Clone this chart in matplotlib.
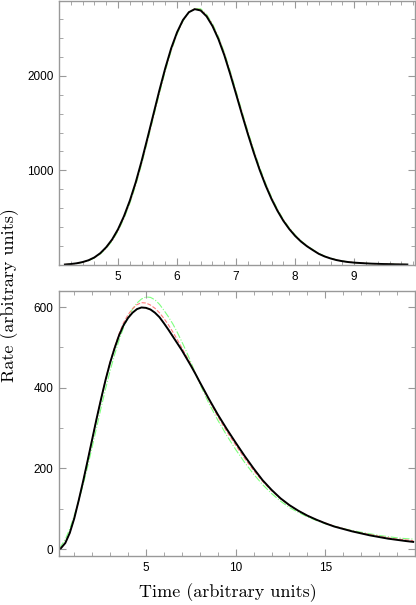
import matplotlib
matplotlib.use("Agg")
import matplotlib.pyplot as plt
from matplotlib.ticker import MultipleLocator, FixedLocator

# top panel: narrow peak
t_top = [4.1, 4.2, 4.3, 4.4, 4.5, 4.6, 4.7, 4.8, 4.9, 5.0,
         5.1, 5.2, 5.3, 5.4, 5.5, 5.6, 5.7, 5.8, 5.9, 6.0,
         6.1, 6.2, 6.3, 6.4, 6.5, 6.6, 6.7, 6.8, 6.9, 7.0,
         7.1, 7.2, 7.3, 7.4, 7.5, 7.6, 7.7, 7.8, 7.9, 8.0,
         8.1, 8.2, 8.3, 8.4, 8.5, 8.6, 8.7, 8.8, 8.9, 9.0,
         9.1, 9.2, 9.3, 9.4, 9.5, 9.6, 9.7, 9.8, 9.9]
black_top = [5, 10, 18, 31, 50, 80, 125, 188, 270, 378,
             515, 680, 875, 1100, 1345, 1595, 1845, 2080, 2290, 2460,
             2590, 2672, 2704, 2690, 2628, 2525, 2388, 2218, 2018, 1805,
             1590, 1382, 1185, 1003, 840, 697, 573, 467, 380, 307,
             247, 198, 157, 118, 90, 69, 52, 40, 31, 25,
             21, 17, 14, 12, 10, 9, 7, 6, 5]
red_top = [5, 10, 17, 30, 48, 78, 121, 183, 263, 369,
           504, 667, 860, 1084, 1328, 1578, 1828, 2065, 2277, 2451,
           2585, 2671, 2708, 2698, 2638, 2537, 2400, 2232, 2033, 1820,
           1605, 1396, 1198, 1015, 851, 707, 581, 474, 386, 312,
           251, 201, 160, 120, 92, 70, 53, 41, 32, 25,
           21, 17, 14, 12, 10, 9, 7, 6, 5]
green_top = [4, 9, 16, 28, 46, 74, 116, 176, 254, 358,
             490, 651, 842, 1066, 1310, 1560, 1810, 2048, 2262, 2440,
             2578, 2670, 2712, 2708, 2650, 2550, 2415, 2248, 2050, 1838,
             1622, 1413, 1214, 1030, 865, 718, 591, 482, 393, 318,
             256, 205, 163, 123, 94, 72, 54, 42, 32, 26,
             21, 17, 14, 12, 10, 9, 7, 6, 5]

# bottom panel: skewed peak
t_bot = [0.15, 0.25, 0.5, 0.75, 1.0, 1.25, 1.5, 1.75, 2.0, 2.25,
         2.5, 2.75, 3.0, 3.25, 3.5, 3.75, 4.0, 4.25, 4.5, 4.75,
         5.0, 5.25, 5.5, 5.75, 6.0, 6.25, 6.5, 6.75, 7.0, 7.25,
         7.5, 7.75, 8.0, 8.5, 9.0, 9.5, 10.0, 10.5, 11.0, 11.5,
         12.0, 12.5, 13.0, 13.5, 14.0, 14.5, 15.0, 15.5, 16.0, 16.5,
         17.0, 17.5, 18.0, 18.5, 19.0, 19.5, 19.9]
black_bot = [0, 2, 15, 40, 76, 121, 169, 220, 272, 324,
             373, 420, 462, 498, 530, 555, 573, 586, 595, 599,
             598, 594, 586, 575, 560, 544, 527, 510, 493, 474,
             455, 435, 414, 373, 334, 298, 264, 231, 200, 171,
             147, 126, 109, 95, 83, 73, 64, 56, 50, 44,
             39, 34, 30, 26, 23, 20, 18]
red_bot = [0, 2, 15, 40, 77, 121, 169, 220, 272, 324,
           374, 421, 464, 501, 534, 561, 581, 596, 606, 611,
           610, 605, 597, 586, 572, 556, 538, 519, 499, 479,
           458, 436, 413, 370, 329, 292, 258, 225, 195, 168,
           145, 125, 108, 95, 83, 73, 65, 57, 51, 45,
           40, 36, 32, 28, 25, 23, 21]
green_bot = [3, 7, 24, 50, 83, 120, 160, 205, 253, 302,
             351, 398, 442, 482, 518, 549, 575, 595, 610, 620,
             625, 624, 618, 607, 592, 576, 558, 537, 514, 490,
             464, 437, 410, 362, 320, 282, 247, 215, 186, 160,
             138, 119, 103, 91, 80, 71, 63, 57, 51, 46,
             42, 38, 34, 31, 28, 26, 25]

fig = plt.figure(figsize=(4.16, 6.05), dpi=100)
ax1 = fig.add_axes([0.1418, 0.562, 0.8558, 0.4363])
ax2 = fig.add_axes([0.1418, 0.081, 0.8558, 0.4388])

for ax, t, b, r, g in [(ax1, t_top, black_top, red_top, green_top),
                       (ax2, t_bot, black_bot, red_bot, green_bot)]:
    ax.plot(t, g, color="#7fff7f", lw=0.8, ls="-.")
    ax.plot(t, r, color="#ff7f7f", lw=0.8, ls="--")
    ax.plot(t, b, color="black", lw=1.4)
    for s in ax.spines.values():
        s.set_color("#999999")
        s.set_linewidth(1.0)
    ax.tick_params(which="both", direction="in", top=True, right=True,
                   color="#999999", labelsize=8.5, pad=4)
    ax.tick_params(which="major", length=5)
    ax.tick_params(which="minor", length=3)

ax1.set_xlim(4.0, 10.03)
ax1.set_ylim(0, 2790)
ax1.xaxis.set_major_locator(FixedLocator([5, 6, 7, 8, 9]))
ax1.xaxis.set_minor_locator(MultipleLocator(0.2))
ax1.yaxis.set_major_locator(FixedLocator([1000, 2000]))
ax1.yaxis.set_minor_locator(MultipleLocator(200))

ax2.set_xlim(0.15, 20.0)
ax2.set_ylim(-17, 641)
ax2.xaxis.set_major_locator(FixedLocator([5, 10, 15]))
ax2.xaxis.set_minor_locator(MultipleLocator(1))
ax2.yaxis.set_major_locator(FixedLocator([0, 200, 400, 600]))
ax2.yaxis.set_minor_locator(MultipleLocator(100))

for ax in (ax1, ax2):
    for lab in ax.get_xticklabels() + ax.get_yticklabels():
        lab.set_fontfamily("Liberation Sans")

fig.text(0.548, 0.02, "Time (arbitrary units)", family="cmr10", fontsize=13,
         ha="center", va="center")
fig.text(0.024, 0.512, "Rate (arbitrary units)", family="cmr10", fontsize=13,
         ha="center", va="center", rotation=90)

fig.savefig("out.png", dpi=100)
